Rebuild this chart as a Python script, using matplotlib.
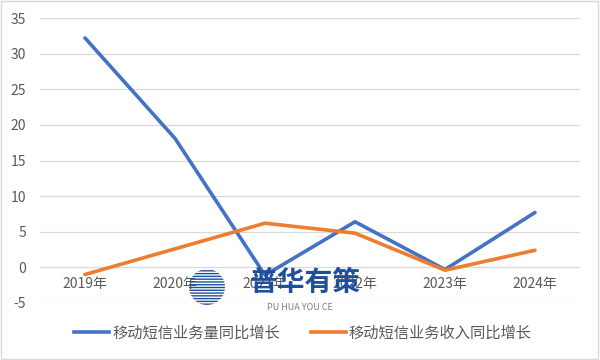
import matplotlib.pyplot as plt
from matplotlib.lines import Line2D
from matplotlib.patches import Ellipse

plt.rcParams['font.family'] = ['Noto Sans CJK SC', 'DejaVu Sans']

years = ["2019年", "2020年", "2021年", "2022年", "2023年", "2024年"]
volume_growth = [32.2, 18.1, -1.1, 6.4, -0.3, 7.7]
revenue_growth = [-1.0, 2.6, 6.2, 4.8, -0.4, 2.4]
series_names = ["移动短信业务量同比增长", "移动短信业务收入同比增长"]
yticks = [-5, 0, 5, 10, 15, 20, 25, 30, 35]

fig = plt.figure(figsize=(6, 3.6), dpi=100)
ax = fig.add_axes([40 / 600, 1 - 303 / 360, 540 / 600, 285 / 360])

x = range(len(years))
ax.plot(x, volume_growth, color="#4472C4", lw=2.6, solid_capstyle="round", solid_joinstyle="round", zorder=3)
ax.plot(x, revenue_growth, color="#ED7D31", lw=2.6, solid_capstyle="round", solid_joinstyle="round", zorder=3)

ax.set_xlim(-0.5, len(years) - 0.5)
ax.set_ylim(-5, 35)
ax.set_yticks(yticks)
ax.set_yticklabels([str(v) for v in yticks])
ax.grid(axis="y", color="#D9D9D9", lw=0.9)
ax.set_axisbelow(True)
for s in ax.spines.values():
    s.set_visible(False)
ax.spines['bottom'].set_position(('data', 0))
ax.set_xticks(list(x))
ax.set_xticklabels(years)
ax.tick_params(axis="both", length=0, labelsize=10, colors="#595959")
ax.tick_params(axis="x", pad=7)
ax.tick_params(axis="y", pad=10)

# watermark (logo + name)
fig.patches.append(Ellipse((207 / 600, 1 - 287 / 360), 36 / 600, 36 / 360, transform=fig.transFigure,
                           fill=False, hatch="------", edgecolor="#1F4E9A", lw=0, zorder=5))
fig.text(305 / 600, 1 - 283 / 360, "普华有策", ha="center", va="center", fontsize=20, fontweight="bold",
         color="#1F4E9A", zorder=5)
fig.text(300 / 600, 1 - 308 / 360, "PU HUA YOU CE", ha="center", va="center", fontsize=6.5,
         color="#7F7F7F", zorder=5)

handles = [Line2D([], [], color="#4472C4", lw=2.6),
           Line2D([], [], color="#ED7D31", lw=2.6)]
fig.legend(handles, series_names, loc="center", bbox_to_anchor=(0.505, 1 - 333 / 360), ncol=2,
           frameon=False, fontsize=11, labelcolor="#595959", handlelength=2.3,
           handletextpad=0.2, columnspacing=2.0)

fig.patches.append(plt.Rectangle((0.002, 0.003), 0.995, 0.993, transform=fig.transFigure,
                                 fill=False, edgecolor="#D9D9D9", lw=1))
fig.savefig("out.png", dpi=100)
